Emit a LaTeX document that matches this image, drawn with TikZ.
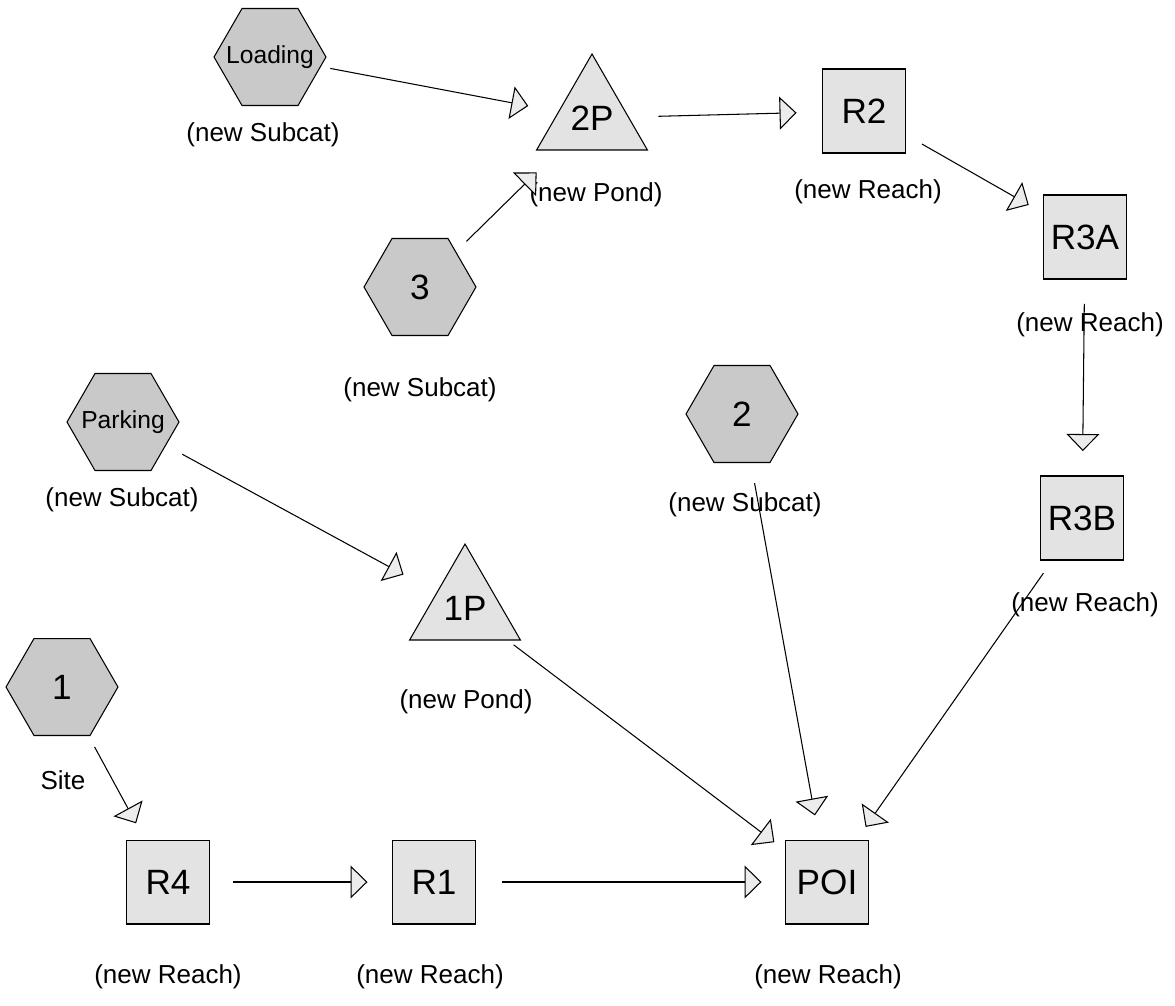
\documentclass[tikz,border=0pt]{standalone}
\usepackage{fontspec}
\setmainfont{Liberation Sans}
\usetikzlibrary{shapes.geometric,arrows.meta}

\begin{document}
\begin{tikzpicture}[x=0.02cm,y=-0.02cm,line width=0.6pt,
    subcat/.style={regular polygon,regular polygon sides=6,minimum size=2.24cm,inner sep=0pt,outer sep=0pt,draw,fill=gray!42,font=\fontsize{20}{24}\selectfont},
    pond/.style={regular polygon,regular polygon sides=3,minimum size=2.56cm,inner sep=0pt,outer sep=0pt,draw,fill=gray!22,font=\fontsize{20}{24}\selectfont},
    reach/.style={rectangle,minimum width=1.66cm,minimum height=1.68cm,inner sep=0pt,outer sep=0pt,draw,fill=gray!22,font=\fontsize{20}{24}\selectfont},
    caption/.style={font=\fontsize{14.8}{18}\selectfont},
    flow/.style={-{Triangle[length=0.34cm,width=0.66cm,fill=gray!15]}}]
    \useasboundingbox (0,0) rectangle (1175,1005);
    % Subcatchments
    \node[subcat] (loading) at (270,57) {\makebox[0pt]{\fontsize{14}{16}\selectfont Loading}};
    \node[caption] (loadingcap) at (263,135) {(new Subcat)};
    \node[subcat] (sub3) at (420,287) {3};
    \node[caption] (sub3cap) at (420,390) {(new Subcat)};
    \node[subcat] (parking) at (123,422) {\makebox[0pt]{\fontsize{14}{16}\selectfont Parking}};
    \node[caption] (parkingcap) at (122,500) {(new Subcat)};
    \node[subcat] (sub2) at (742,414) {2};
    \node[caption] (sub2cap) at (745,505) {(new Subcat)};
    \node[subcat] (sub1) at (62,687) {1};
    \node[caption] (sub1cap) at (63,780) {Site};
    % Ponds
    \node[pond] (pond2) at (592,118) {2P};
    \node[caption] (pond2cap) at (596,195) {(new Pond)};
    \node[pond] (pond1) at (465,608) {1P};
    \node[caption] (pond1cap) at (466,702) {(new Pond)};
    % Reaches
    \node[reach] (r2) at (864,111) {R2};
    \node[caption] (r2cap) at (868,192) {(new Reach)};
    \node[reach] (r3a) at (1085,237) {R3A};
    \node[caption] (r3acap) at (1090,325) {(new Reach)};
    \node[reach] (r3b) at (1082,518) {R3B};
    \node[caption] (r3bcap) at (1085,605) {(new Reach)};
    \node[reach] (r4) at (168,882) {R4};
    \node[caption] (r4cap) at (168,977) {(new Reach)};
    \node[reach] (r1) at (434,882) {R1};
    \node[caption] (r1cap) at (430,977) {(new Reach)};
    \node[reach] (poi) at (827,882) {POI};
    \node[caption] (poicap) at (828,977) {(new Reach)};
    % Flows
    \draw[flow,shorten <=0.2cm,shorten >=0.62cm] (loading) -- (pond2);
    \draw[flow,shorten <=0.3cm,shorten >=0.64cm] (sub3) -- (pond2);
    \draw[flow,shorten <=0.6cm,shorten >=0.52cm] (pond2) -- (r2);
    \draw[flow,shorten <=0.38cm,shorten >=0.34cm] (r2) -- (r3a);
    \draw[flow,shorten <=0.5cm,shorten >=0.5cm] (r3a) -- (r3b);
    \draw[flow,shorten <=0.38cm,shorten >=0.76cm] (parking) -- (pond1);
    \draw[flow,shorten <=0.26cm,shorten >=0.38cm] (sub1) -- (r4);
    \draw[flow,shorten <=0.48cm,shorten >=0.5cm] (r4) -- (r1);
    \draw[flow,shorten <=0.54cm,shorten >=0.48cm] (r1) -- (poi);
    \draw[flow,shorten <=0.16cm,shorten >=0.28cm] (pond1) -- (poi);
    \draw[flow,shorten <=0.42cm,shorten >=0.5cm] (sub2) -- (poi);
    \draw[flow,shorten <=0.32cm,shorten >=0.32cm] (r3b) -- (poi);
\end{tikzpicture}
\end{document}
